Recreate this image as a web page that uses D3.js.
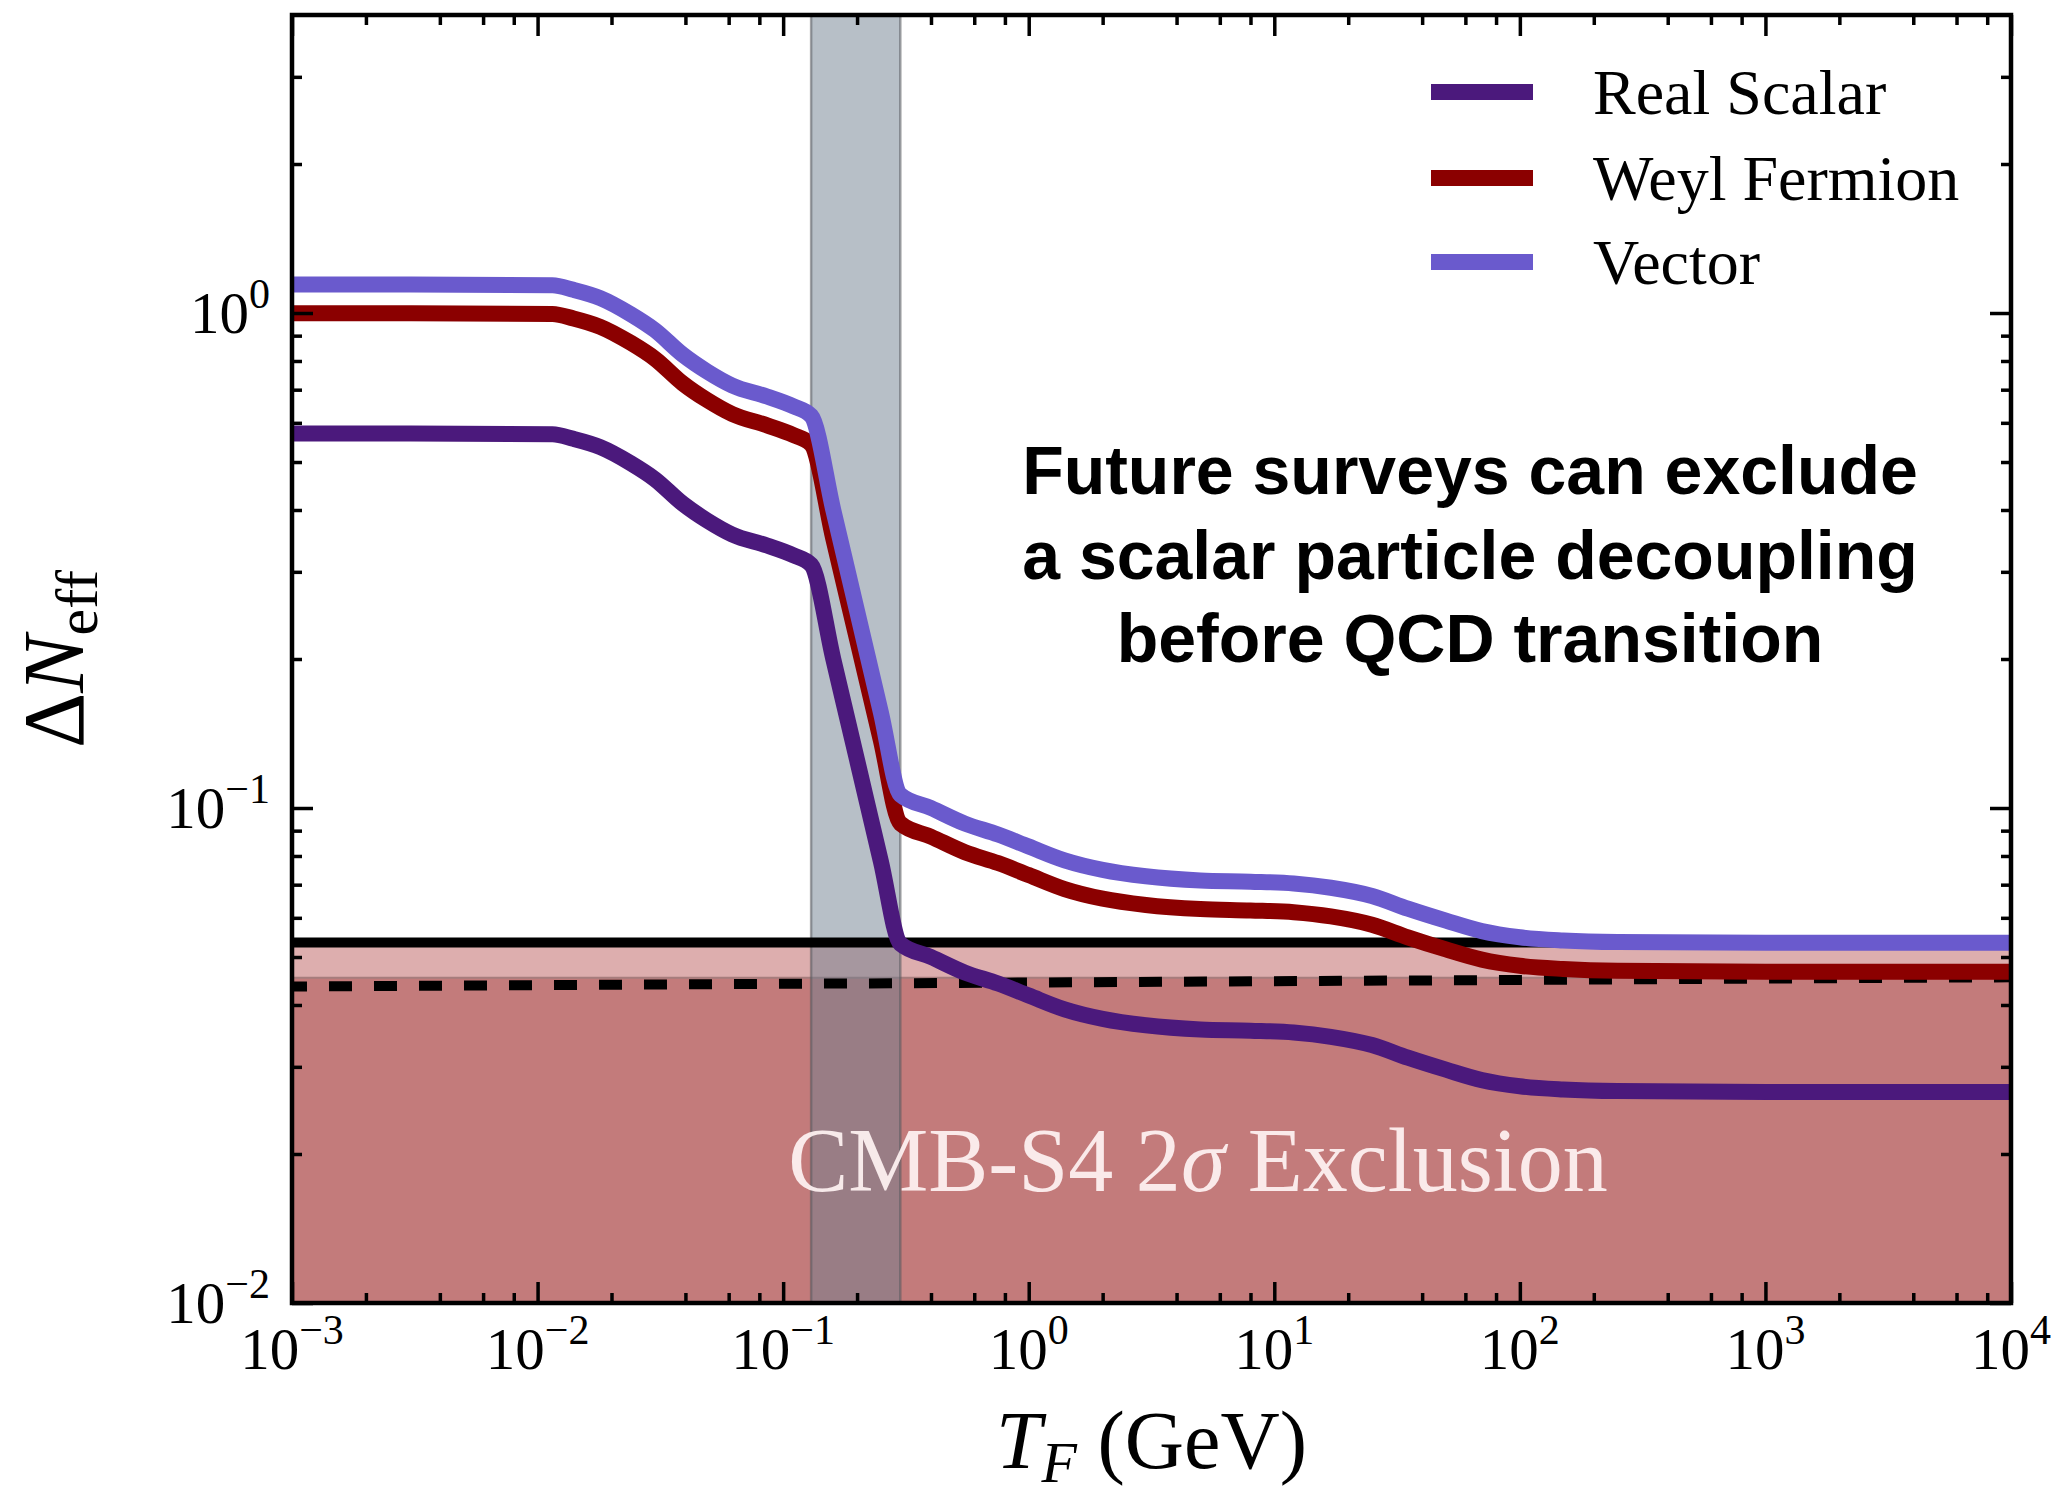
<!DOCTYPE html>
<html>
<head>
<meta charset="utf-8">
<script src="https://cdn.jsdelivr.net/npm/d3@7"></script>
<style>
  html, body { margin: 0; padding: 0; background: #ffffff; }
  svg { display: block; }
</style>
</head>
<body>
<svg id="chart" width="2064" height="1494"></svg>
<script>
// Decoupling temperature T_F (GeV)
const tempGeV = [0.001, 0.003, 0.0115, 0.014, 0.018, 0.024, 0.03, 0.039, 0.049, 0.062, 0.086, 0.11, 0.13,
                 0.16, 0.2, 0.25, 0.3, 0.4, 0.55, 0.75, 1.0, 1.4, 2, 3, 5, 8, 12, 17, 25, 35, 50, 70,
                 100, 150, 250, 1000, 10000];

// ΔN_eff contributed by each species
const realScalar = [0.571, 0.571, 0.569, 0.557, 0.536, 0.497, 0.462, 0.412, 0.381, 0.357, 0.339, 0.324, 0.310,
                    0.200, 0.125, 0.078, 0.0532, 0.0500, 0.0465, 0.0442, 0.0418, 0.0392, 0.0375, 0.0364, 0.0357,
                    0.0355, 0.0352, 0.0345, 0.0332, 0.0313, 0.0296, 0.0282, 0.0274, 0.0270, 0.0268, 0.0267, 0.0267];
const weylFermion = [0.999, 0.999, 0.996, 0.975, 0.938, 0.870, 0.809, 0.721, 0.667, 0.625, 0.593, 0.567, 0.543,
                     0.350, 0.219, 0.137, 0.0931, 0.0875, 0.0814, 0.0774, 0.0732, 0.0686, 0.0656, 0.0637, 0.0625,
                     0.0621, 0.0616, 0.0604, 0.0581, 0.0548, 0.0518, 0.0494, 0.0480, 0.0473, 0.0469, 0.0467, 0.0467];
const vectorBoson = [1.142, 1.142, 1.138, 1.114, 1.072, 0.994, 0.924, 0.824, 0.762, 0.714, 0.678, 0.648, 0.620,
                     0.400, 0.250, 0.156, 0.1064, 0.100, 0.093, 0.0884, 0.0836, 0.0784, 0.0750, 0.0728, 0.0714,
                     0.0710, 0.0704, 0.0690, 0.0664, 0.0626, 0.0592, 0.0564, 0.0548, 0.0540, 0.0536, 0.0534, 0.0534];

const seriesNames = ["Real Scalar", "Weyl Fermion", "Vector"];
const seriesColors = ["#4b197c", "#8b0000", "#6a5acd"];

// CMB-S4 forecast levels
const cmbSolidLevel = 0.0535;          // upper edge of the light band
const cmbExclusionTop = 0.0454;        // upper edge of the excluded region
const dashedEnds = [0.0436, 0.0455];   // dashed reference line at T = 1e-3 and 1e4

// QCD transition window (GeV)
const qcdWindow = [0.13, 0.30];

// Axis ticks
const xMajorExp = [-3, -2, -1, 0, 1, 2, 3, 4];
const yMajorExp = [-2, -1, 0];

const svg = d3.select("#chart");
const W = 2064, H = 1494;
const pLeft = 292, pRight = 2011, pTop = 15, pBottom = 1303;

const x = d3.scaleLog().domain([1e-3, 1e4]).range([pLeft, pRight]);
const y = d3.scaleLog().domain([1e-2, 4]).range([pBottom, pTop]);

svg.append("rect").attr("width", W).attr("height", H).attr("fill", "#ffffff");

const clip = svg.append("defs").append("clipPath").attr("id", "plotclip");
clip.append("rect").attr("x", pLeft).attr("y", pTop).attr("width", pRight - pLeft).attr("height", pBottom - pTop);

const plot = svg.append("g").attr("clip-path", "url(#plotclip)");

// Shaded CMB-S4 regions
plot.append("rect")
  .attr("x", x(1e-3)).attr("width", x(1e4) - x(1e-3))
  .attr("y", y(cmbSolidLevel)).attr("height", y(cmbExclusionTop) - y(cmbSolidLevel))
  .attr("fill", "#ddaeae");
plot.append("rect")
  .attr("x", x(1e-3)).attr("width", x(1e4) - x(1e-3))
  .attr("y", y(cmbExclusionTop)).attr("height", y(1e-2) - y(cmbExclusionTop))
  .attr("fill", "#c37b7b");
plot.append("line")
  .attr("x1", x(1e-3)).attr("x2", x(1e4))
  .attr("y1", y(cmbExclusionTop)).attr("y2", y(cmbExclusionTop))
  .attr("stroke", "#a67d7d").attr("stroke-width", 2);

// QCD transition band
plot.append("rect")
  .attr("x", x(qcdWindow[0])).attr("width", x(qcdWindow[1]) - x(qcdWindow[0]))
  .attr("y", pTop).attr("height", pBottom - pTop)
  .attr("fill", "rgb(112,128,144)").attr("fill-opacity", 0.5)
  .attr("stroke", "#55585c").attr("stroke-opacity", 0.55).attr("stroke-width", 2.5);

// Label inside the excluded region
const cmbLabel = plot.append("text")
  .attr("x", 1198).attr("y", 1191)
  .attr("text-anchor", "middle")
  .attr("font-family", "'Liberation Serif', 'DejaVu Serif', serif")
  .attr("font-size", 90)
  .attr("fill", "#fff3f3").attr("fill-opacity", 0.92);
cmbLabel.append("tspan").text("CMB-S4 2");
cmbLabel.append("tspan").attr("font-style", "italic").text("σ");
cmbLabel.append("tspan").text(" Exclusion");

// Solid and dashed forecast lines
plot.append("line")
  .attr("x1", x(1e-3)).attr("x2", x(1e4))
  .attr("y1", y(cmbSolidLevel)).attr("y2", y(cmbSolidLevel))
  .attr("stroke", "#000").attr("stroke-width", 10);
plot.append("line")
  .attr("x1", x(1e-3)).attr("x2", x(1e4))
  .attr("y1", y(dashedEnds[0])).attr("y2", y(dashedEnds[1]))
  .attr("stroke", "#000").attr("stroke-width", 10)
  .attr("stroke-dasharray", "23 22").attr("stroke-dashoffset", 8);

// Curves
const line = d3.line()
  .x(d => x(d[0]))
  .y(d => y(d[1]))
  .curve(d3.curveMonotoneX);

[realScalar, weylFermion, vectorBoson].forEach((vals, i) => {
  plot.append("path")
    .datum(tempGeV.map((t, k) => [t, vals[k]]))
    .attr("d", line)
    .attr("fill", "none")
    .attr("stroke", seriesColors[i])
    .attr("stroke-width", 16)
    .attr("stroke-linejoin", "round");
});

// Ticks on all four sides
const xMinor = [];
for (let e = -3; e < 4; e++) [2, 4, 6, 8].forEach(m => xMinor.push(m * Math.pow(10, e)));
const yMinor = [];
for (let e = -2; e < 1; e++) [2, 3, 4, 5, 6, 7, 8, 9].forEach(m => {
  const v = m * Math.pow(10, e);
  if (v < 4) yMinor.push(v);
});
const xMajor = xMajorExp.map(e => Math.pow(10, e));
const yMajor = yMajorExp.map(e => Math.pow(10, e));

function drawAxis(axisFn, scale, values, size, transform) {
  const g = svg.append("g").attr("transform", transform)
    .call(axisFn(scale).tickValues(values).tickSizeInner(-size).tickSizeOuter(0).tickFormat(""));
  g.select(".domain").remove();
  g.selectAll(".tick line").attr("stroke", "#000").attr("stroke-width", 3.5);
}
drawAxis(d3.axisBottom, x, xMajor, 21, `translate(0,${pBottom})`);
drawAxis(d3.axisBottom, x, xMinor, 10, `translate(0,${pBottom})`);
drawAxis(d3.axisTop, x, xMajor, 21, `translate(0,${pTop})`);
drawAxis(d3.axisTop, x, xMinor, 10, `translate(0,${pTop})`);
drawAxis(d3.axisLeft, y, yMajor, 21, `translate(${pLeft},0)`);
drawAxis(d3.axisLeft, y, yMinor, 10, `translate(${pLeft},0)`);
drawAxis(d3.axisRight, y, yMajor, 21, `translate(${pRight},0)`);
drawAxis(d3.axisRight, y, yMinor, 10, `translate(${pRight},0)`);

// Frame
svg.append("rect")
  .attr("x", pLeft).attr("y", pTop).attr("width", pRight - pLeft).attr("height", pBottom - pTop)
  .attr("fill", "none").attr("stroke", "#000").attr("stroke-width", 4.5);

// Tick labels as powers of ten
const serif = "'Liberation Serif', 'DejaVu Serif', serif";
const fmtExp = e => (e < 0 ? "\u2212" + Math.abs(e) : String(e));

xMajorExp.forEach(e => {
  const t = svg.append("text")
    .attr("x", x(Math.pow(10, e))).attr("y", 1369)
    .attr("text-anchor", "middle")
    .attr("font-family", serif).attr("font-size", 59).attr("fill", "#000");
  t.append("tspan").text("10");
  t.append("tspan").attr("dy", -25).attr("font-size", 42).text(fmtExp(e));
});
yMajorExp.forEach(e => {
  const t = svg.append("text")
    .attr("x", 270).attr("y", y(Math.pow(10, e)) + 20)
    .attr("text-anchor", "end")
    .attr("font-family", serif).attr("font-size", 59).attr("fill", "#000");
  t.append("tspan").text("10");
  t.append("tspan").attr("dy", -25).attr("font-size", 42).text(fmtExp(e));
});

// Axis titles
const xTitle = svg.append("text")
  .attr("x", (pLeft + pRight) / 2).attr("y", 1468)
  .attr("text-anchor", "middle")
  .attr("font-family", serif).attr("font-size", 82).attr("fill", "#000");
xTitle.append("tspan").attr("font-style", "italic").text("T");
xTitle.append("tspan").attr("font-style", "italic").attr("font-size", 58).attr("dy", 14).text("F");
xTitle.append("tspan").attr("dy", -14).text(" (GeV)");

const yTitle = svg.append("text")
  .attr("transform", `translate(83,${(pTop + pBottom) / 2}) rotate(-90)`)
  .attr("text-anchor", "middle")
  .attr("font-family", serif).attr("font-size", 86).attr("fill", "#000");
yTitle.append("tspan").text("Δ");
yTitle.append("tspan").attr("font-style", "italic").text("N");
yTitle.append("tspan").attr("font-size", 60).attr("dy", 14).text("eff");

// Legend
const legendY = [92, 178, 262];
seriesNames.forEach((name, i) => {
  svg.append("line")
    .attr("x1", 1431).attr("x2", 1533)
    .attr("y1", legendY[i]).attr("y2", legendY[i])
    .attr("stroke", seriesColors[i]).attr("stroke-width", 16);
  svg.append("text")
    .attr("x", 1593).attr("y", legendY[i] + 22)
    .attr("font-family", serif).attr("font-size", 64).attr("fill", "#000")
    .text(name);
});

// Annotation
const note = ["Future surveys can exclude", "a scalar particle decoupling", "before QCD transition"];
const noteBase = [494, 579, 662];
note.forEach((s, i) => {
  svg.append("text")
    .attr("x", 1470).attr("y", noteBase[i])
    .attr("text-anchor", "middle")
    .attr("font-family", "'Liberation Sans', Arial, Helvetica, sans-serif")
    .attr("font-weight", "bold").attr("font-size", 68).attr("fill", "#000")
    .text(s);
});
</script>
</body>
</html>
